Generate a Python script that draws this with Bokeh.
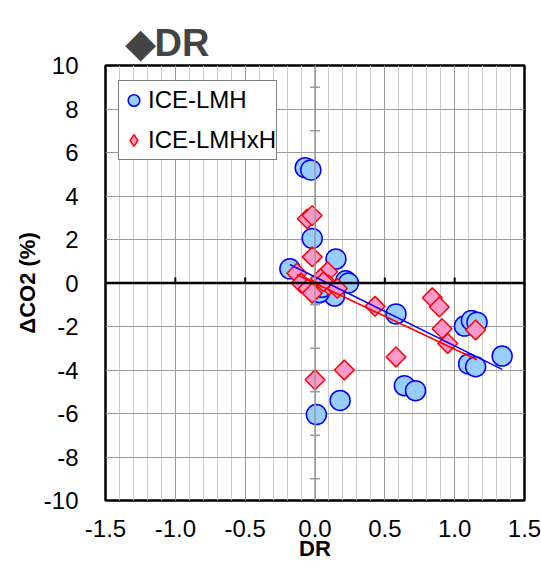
import numpy as np
from bokeh.plotting import figure
from bokeh.models import (Range1d, FixedTicker, Span, Legend, LegendItem,
                          ColumnDataSource)
from bokeh.embed import file_html
from bokeh.resources import INLINE

# ---------------- data ----------------
lmh_dr = [-0.07, -0.03, -0.02, 0.15, -0.18, 0.22, 0.24, 0.14, 0.03, 0.05,
          0.58, 0.18, 0.01, 1.07, 1.12, 1.16, 1.10, 1.15, 1.34, 0.64, 0.72]
lmh_co2 = [5.3, 5.2, 2.05, 1.1, 0.65, 0.1, 0.0, -0.6, -0.45, -0.2,
           -1.42, -5.4, -6.05, -1.98, -1.72, -1.8, -3.72, -3.85, -3.36, -4.72, -4.95]

lmhxh_dr = [-0.055, -0.02, -0.02, -0.13, 0.09, -0.10, -0.05, -0.02, 0.04, 0.10,
            0.16, 0.06, 0.43, 0.58, 0.00, 0.21, 0.84, 0.89, 0.91, 0.95, 1.15]
lmhxh_co2 = [2.95, 3.1, 1.2, 0.45, 0.52, 0.0, -0.25, -0.47, 0.2, -0.1,
             -0.25, 0.05, -1.07, -3.4, -4.45, -4.0, -0.68, -1.1, -2.1, -2.78, -2.16]

# linear trend lines (end points)
lmh_fit_dr = [-0.18, 1.34]
lmh_fit_co2 = [0.85, -3.97]
lmhxh_fit_dr = [-0.13, 1.16]
lmhxh_fit_co2 = [0.38, -3.53]

x_ticks = [-1.5, -1.0, -0.5, 0.0, 0.5, 1.0, 1.5]
x_tick_labels = ["-1.5", "-1.0", "-0.5", "0.0", "0.5", "1.0", "1.5"]
x_minor = [round(-1.5 + 0.1 * i, 1) for i in range(31)]
y_ticks = [-10, -8, -6, -4, -2, 0, 2, 4, 6, 8, 10]
y_tick_labels = ["-10", "-8", "-6", "-4", "-2", "0", "2", "4", "6", "8", "10"]
y_minor = [-9, -7, -5, -3, -1, 1, 3, 5, 7, 9]

FONT = "Liberation Sans"

p = figure(width=541, height=567, x_range=Range1d(-1.5, 1.5), y_range=Range1d(-10, 10),
           output_backend="svg", toolbar_location=None,
           min_border_left=105, min_border_right=17, min_border_top=65, min_border_bottom=67)

p.background_fill_color = "white"
p.border_fill_color = "white"
p.outline_line_color = "black"
p.outline_line_width = 2.5

# title
p.title.text = "\u25c6DR"
p.title.text_font = FONT
p.title.text_font_size = "38px"
p.title.text_font_style = "bold"
p.title.align = "left"
p.title.offset = 20
p.title.standoff = 4
p.title.padding = (0, 0, 12, 0)

# axes
p.xaxis.ticker = FixedTicker(ticks=x_ticks)
p.xaxis.major_label_overrides = {t: l for t, l in zip(x_ticks, x_tick_labels)}
p.yaxis.ticker = FixedTicker(ticks=y_ticks)
p.yaxis.major_label_overrides = {t: l for t, l in zip(y_ticks, y_tick_labels)}
for ax in (p.xaxis[0], p.yaxis[0]):
    ax.axis_line_color = None
    ax.major_tick_line_color = None
    ax.minor_tick_line_color = None
    ax.major_tick_out = 0
    ax.major_tick_in = 0
    ax.major_label_text_font = FONT
    ax.major_label_text_font_size = "24px"
    ax.major_label_text_color = "black"
    ax.axis_label_text_font = FONT
    ax.axis_label_text_font_size = "22px"
    ax.axis_label_text_font_style = "bold"
    ax.axis_label_text_color = "black"
p.xaxis.axis_label = "DR"
p.yaxis.axis_label = "\u0394CO2 (%)"
p.xaxis.major_label_standoff = 19
p.yaxis.major_label_standoff = 27
p.xaxis.axis_label_standoff = -4
p.yaxis.axis_label_standoff = 1

# grid
p.xgrid.ticker = FixedTicker(ticks=x_ticks, minor_ticks=x_minor)
p.xgrid.grid_line_color = "#9a9a9a"
p.xgrid.grid_line_width = 1
p.xgrid.minor_grid_line_color = "#cccccc"
p.xgrid.minor_grid_line_width = 1
p.ygrid.ticker = FixedTicker(ticks=y_ticks)
p.ygrid.grid_line_color = "#9a9a9a"
p.ygrid.grid_line_width = 1

# crossing axes at zero
p.add_layout(Span(location=0, dimension="height", line_color="#9a9a9a", line_width=1.5))
p.add_layout(Span(location=0, dimension="width", line_color="black", line_width=2.5))

xt_inner = [t for t in x_ticks if t not in (-1.5, 0.0, 1.5)]
p.segment(x0=xt_inner, y0=[0] * len(xt_inner), x1=xt_inner, y1=[0.25] * len(xt_inner),
          line_color="black", line_width=2)
p.segment(x0=[-0.035] * len(y_minor), y0=y_minor, x1=[0.035] * len(y_minor), y1=y_minor,
          line_color="#9a9a9a", line_width=1.5)

# data
src1 = ColumnDataSource(dict(x=lmh_dr, y=lmh_co2))
src2 = ColumnDataSource(dict(x=lmhxh_dr, y=lmhxh_co2))
r1 = p.scatter("x", "y", source=src1, marker="circle", size=20,
               fill_color="#99ccff", line_color="#0000ff", line_width=1.5)
r2 = p.scatter("x", "y", source=src2, marker="square", size=14, angle=np.pi / 4,
               fill_color="#ff99cc", line_color="#ff0000", line_width=1.5)

p.line(lmh_fit_dr, lmh_fit_co2, line_color="#0000ff", line_width=1.5)
p.line(lmhxh_fit_dr, lmhxh_fit_co2, line_color="#ff0000", line_width=1.5)

# legend swatch for the diamond series (legend glyphs are never rotated);
# its single point is NaN so nothing is drawn inside the plot
r2_key = p.scatter(x=[np.nan], y=[np.nan], marker="diamond", size=14,
                   fill_color="#ff99cc", line_color="#ff0000", line_width=1.5)

legend = Legend(items=[LegendItem(label="ICE-LMH", renderers=[r1]),
                       LegendItem(label="ICE-LMHxH", renderers=[r2_key])],
                location=(13, 340))
legend.label_text_font = FONT
legend.label_text_font_size = "24px"
legend.label_text_color = "black"
legend.border_line_color = "black"
legend.border_line_width = 1
legend.background_fill_color = "white"
legend.background_fill_alpha = 1
legend.padding = 0
legend.margin = 0
legend.spacing = 2
legend.glyph_width = 29
legend.glyph_height = 38
legend.label_standoff = 0
p.add_layout(legend)

open("out.html", "w").write(file_html(p, INLINE))
